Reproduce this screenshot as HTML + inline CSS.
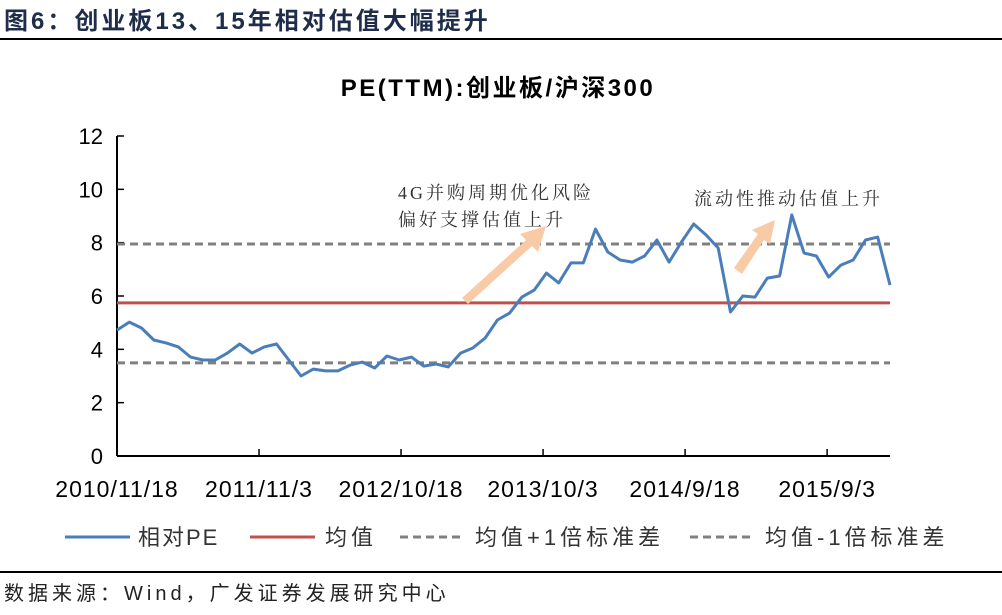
<!DOCTYPE html>
<html><head><meta charset="utf-8">
<style>
body{margin:0;background:#fff;}
svg{display:block;font-family:"Liberation Sans","Noto Sans CJK SC",sans-serif;}
</style></head>
<body>
<svg id="chart" width="1002" height="615" viewBox="0 0 1002 615">
  <text x="4" y="29" font-size="24" font-weight="bold" letter-spacing="3" fill="#1f2d4a">图6：创业板13、15年相对估值大幅提升</text>
  <rect x="0" y="38" width="1002" height="2" fill="#000"/>
  <text x="498" y="96" font-size="24" font-weight="bold" letter-spacing="2.5" text-anchor="middle" fill="#000">PE(TTM):创业板/沪深300</text>
  <g id="plot"></g>
  <g id="annot">
    <text x="398" y="199" font-size="18" letter-spacing="3" fill="#333" font-family="'Liberation Serif','Noto Serif CJK SC',serif">4G并购周期优化风险</text>
    <text x="398" y="226" font-size="18" letter-spacing="3" fill="#333" font-family="'Liberation Serif','Noto Serif CJK SC',serif">偏好支撑估值上升</text>
    <text x="694" y="205" font-size="18" letter-spacing="3" fill="#333" font-family="'Liberation Serif','Noto Serif CJK SC',serif">流动性推动估值上升</text>
    <polygon points="462,298 526,240 520,234 546,226 538,252 532,246 468,304" fill="#f8cba6"/>
    <polygon points="734,268 758,234 752,230 775,220 770,244 764,240 742,274" fill="#f8cba6"/>
  </g>
  <g id="legend">
    <line x1="65" y1="537" x2="130" y2="537" stroke="#4a7ebb" stroke-width="3"/>
    <text x="138" y="545" font-size="22" letter-spacing="2" fill="#333">相对PE</text>
    <line x1="250" y1="537" x2="315" y2="537" stroke="#c0504d" stroke-width="3"/>
    <text x="325" y="545" font-size="22" letter-spacing="4" fill="#333">均值</text>
    <line x1="400" y1="537" x2="465" y2="537" stroke="#808080" stroke-width="3" stroke-dasharray="8,5"/>
    <text x="475" y="545" font-size="22" letter-spacing="4" fill="#333">均值+1倍标准差</text>
    <line x1="690" y1="537" x2="755" y2="537" stroke="#808080" stroke-width="3" stroke-dasharray="8,5"/>
    <text x="765" y="545" font-size="22" letter-spacing="4" fill="#333">均值-1倍标准差</text>
  </g>
  <rect x="0" y="571" width="1002" height="2" fill="#000"/>
  <text x="4" y="600" font-size="20" letter-spacing="4" fill="#222">数据来源：Wind，广发证券发展研究中心</text>
</svg>
<script>
const peValues=[4.72,5.02,4.80,4.35,4.24,4.09,3.71,3.60,3.60,3.86,4.20,3.86,4.09,4.20,3.60,3.00,3.26,3.19,3.19,3.41,3.52,3.30,3.75,3.60,3.71,3.37,3.45,3.34,3.86,4.05,4.42,
5.10,5.36,5.96,6.22,6.86,6.49,7.24,7.24,8.51,7.65,7.35,7.27,7.50,8.10,7.27,8.02,8.70,8.29,7.80,5.40,6.00,5.96,6.67,6.75,9.04,7.61,7.50,6.71,7.16,7.35,8.10,8.21,6.41];
const meanValue=5.74;
const plusOneStd=7.95;
const minusOneStd=3.49;
const yTicks=[0,2,4,6,8,10,12];
const xTickLabels=["2010/11/18","2011/11/3","2012/10/18","2013/10/3","2014/9/18","2015/9/3"];

const NS="http://www.w3.org/2000/svg";
const plot=document.getElementById('plot');
const X0=117,X1=890,Y0=456,Y1=136,YMAX=12;
const startDate=new Date(2010,10,18);
const totalDays=1905;
function dayOf(s){const p=s.split('/');return (new Date(+p[0],+p[1]-1,+p[2])-startDate)/86400000;}
function xDay(d){return X0+d*(X1-X0)/totalDays;}
function xIdx(i){return X0+i*(X1-X0)/(peValues.length-1);}
function y(v){return Y0-v*(Y0-Y1)/YMAX;}
function mk(tag,attrs){const e=document.createElementNS(NS,tag);for(const k in attrs)e.setAttribute(k,attrs[k]);plot.appendChild(e);return e;}

yTicks.forEach(t=>{
  const tk=mk('line',{x1:X0,x2:X0+7,y1:y(t),y2:y(t),stroke:'#000','stroke-width':1.5});
  
  
  const lb=mk('text',{x:X0-14,y:y(t)+8,'font-size':22,'text-anchor':'end',fill:'#000'});
  lb.textContent=t;
  
  
});
xTickLabels.forEach(s=>{
  const xx=xDay(dayOf(s));
  const tk=mk('line',{x1:xx,x2:xx,y1:Y0,y2:Y0-7,stroke:'#000','stroke-width':1.5});
  
  
  const lb=mk('text',{x:xx,y:Y0+41,'font-size':23,'letter-spacing':1,'text-anchor':'middle',fill:'#000'});
  lb.textContent=s;
  
  
});
const ya=mk('line',{x1:X0,x2:X0,y1:Y1,y2:Y0,stroke:'#000','stroke-width':2});


const xa=mk('line',{x1:X0,x2:X1,y1:Y0,y2:Y0,stroke:'#000','stroke-width':2});



const pl=mk('line',{x1:X0,x2:X1,y1:y(plusOneStd),y2:y(plusOneStd),stroke:'#808080','stroke-width':3,'stroke-dasharray':'8,5'});


const ml=mk('line',{x1:X0,x2:X1,y1:y(minusOneStd),y2:y(minusOneStd),stroke:'#808080','stroke-width':3,'stroke-dasharray':'8,5'});


const mean=mk('line',{x1:X0,x2:X1,y1:y(meanValue),y2:y(meanValue),stroke:'#c0504d','stroke-width':3});


const pts=peValues.map((v,i)=>xIdx(i).toFixed(1)+','+y(v).toFixed(1)).join(' ');
const line=mk('polyline',{points:pts,fill:'none',stroke:'#4a7ebb','stroke-width':3,'stroke-linejoin':'round'});


</script>
</body></html>
